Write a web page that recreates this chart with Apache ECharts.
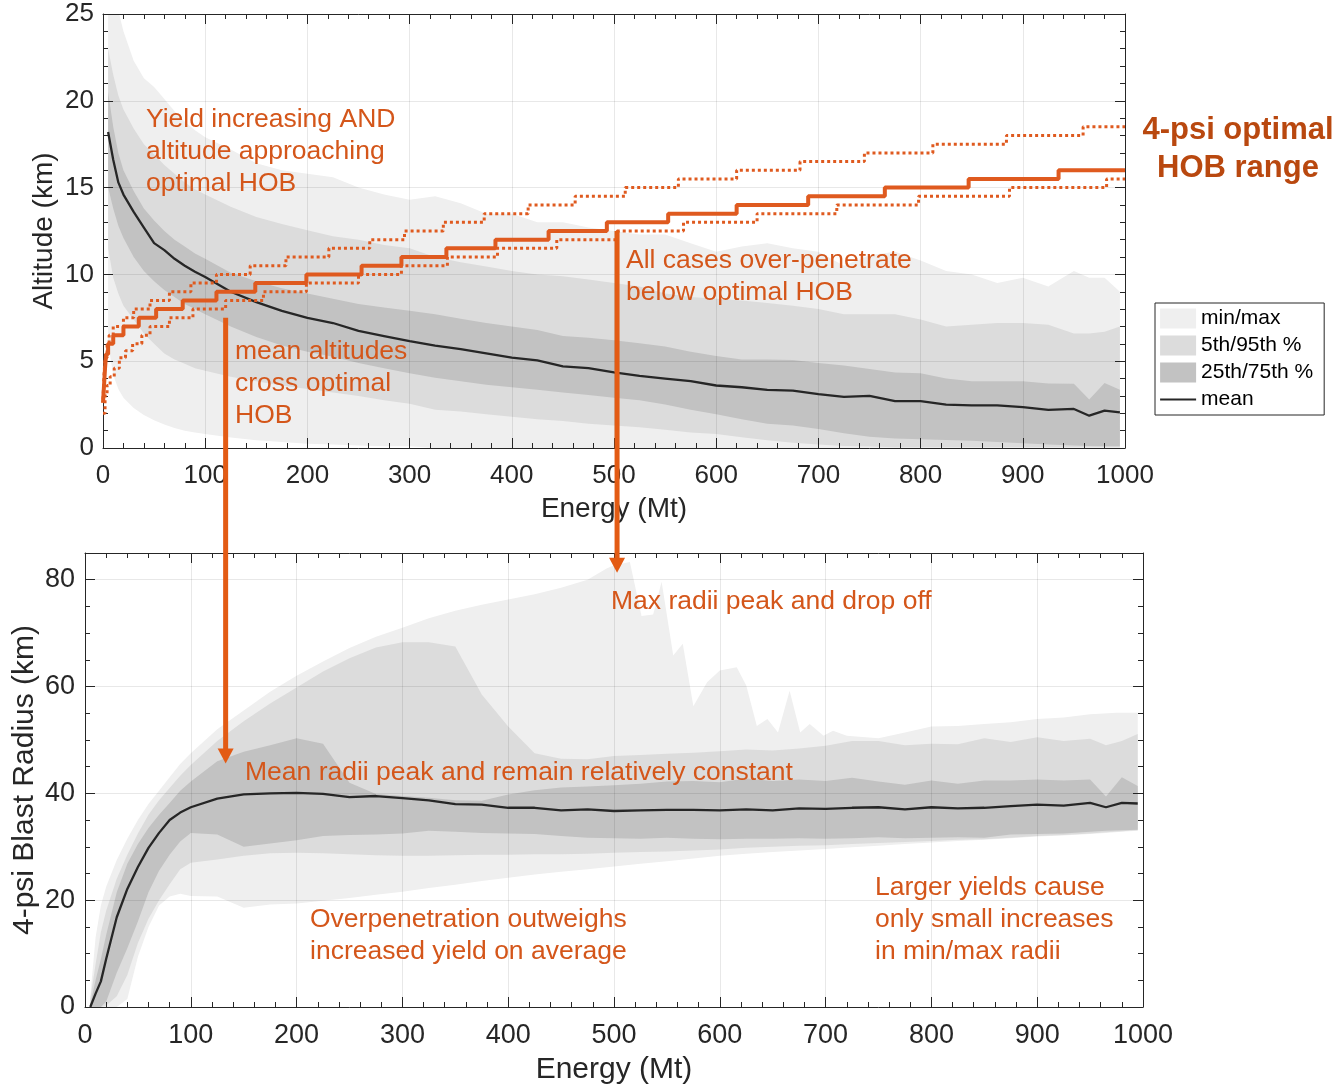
<!DOCTYPE html>
<html>
<head>
<meta charset="utf-8">
<script src="https://cdn.jsdelivr.net/npm/echarts@6/dist/echarts.min.js"></script>
<style>
  html, body { margin: 0; padding: 0; background: #fff; }
  #chart { width: 1340px; height: 1087px; }
</style>
</head>
<body>
<div id="chart"></div>
<script>
// energy grid shared by both panels (Mt)
const energy = [5,10,15,20,30,40,50,60,70,80,90,100,125,150,175,200,225,250,275,300,325,350,375,400,425,450,475,500,525,550,575,600,625,650,675,700,725,750,775,800,825,850,875,900,925,950,965,980,995];

// top panel: burst altitude (km)
const altMax  = [27,26,25.2,24.0,22.3,21.3,20.8,20.1,19.4,18.8,18.3,17.9,17.2,16.4,16.0,15.8,15.6,15.0,14.6,14.3,14.5,14.1,13.5,13.5,13.0,13.0,12.7,12.5,12.3,12.3,11.8,11.3,11.6,11.8,11.5,11.3,10.5,11.1,11.3,10.8,10.2,10.0,9.5,9.8,9.3,10.2,9.8,9.8,9.0];
const altP95  = [23.0,21.5,20.3,19.5,18.4,17.5,16.9,16.3,15.8,15.3,14.9,14.6,13.9,13.3,12.9,12.55,12.2,12.0,11.7,11.5,11.0,10.7,10.45,10.2,10.0,9.9,9.7,9.5,9.3,8.9,8.7,8.6,8.5,8.35,8.2,8.0,7.7,7.7,7.7,7.4,7.0,7.1,7.2,7.2,7.1,6.6,6.6,6.7,7.0];
const altQ75  = [20.5,18.5,17.0,16.0,14.8,13.8,13.1,12.5,12.0,11.6,11.2,10.9,10.1,9.6,9.2,8.9,8.6,8.3,8.1,7.9,7.7,7.45,7.2,7.0,6.8,6.45,6.35,6.2,6.03,5.85,5.55,5.3,5.1,5.1,5.07,4.9,4.75,4.55,4.35,4.3,4.0,3.85,3.85,3.85,3.72,3.7,2.8,3.75,3.35];
const altMean = [18.2,16.6,15.3,14.6,13.6,12.7,11.8,11.4,10.9,10.5,10.15,9.85,9.0,8.4,7.9,7.5,7.2,6.75,6.45,6.15,5.9,5.7,5.45,5.2,5.05,4.7,4.6,4.35,4.15,4.0,3.85,3.6,3.5,3.35,3.3,3.1,2.95,3.0,2.7,2.7,2.5,2.45,2.45,2.35,2.2,2.25,1.86,2.15,2.05];
const altQ25  = [15.0,13.8,12.8,12.1,11.0,10.2,9.6,9.1,8.7,8.3,8.0,7.7,7.0,6.4,5.9,5.55,5.25,4.9,4.6,4.3,4.05,3.85,3.65,3.5,3.35,3.2,3.05,2.9,2.75,2.5,2.2,1.95,1.65,1.4,1.3,1.1,0.85,0.65,0.55,0.5,0.46,0.42,0.35,0.28,0.2,0.15,0.12,0.1,0.1];
const altP05  = [11.5,9.8,8.9,8.2,7.4,6.6,6.0,5.45,5.1,4.85,4.6,4.45,4.1,3.85,3.6,3.4,3.2,3.0,2.75,2.55,2.2,2.1,1.95,1.8,1.65,1.55,1.4,1.3,1.2,1.05,0.9,0.8,0.62,0.45,0.3,0.2,0.12,0.08,0.05,0.05,0.05,0.05,0.05,0.05,0.05,0.05,0.05,0.05,0.05];
const altMin  = [6.0,4.2,3.4,2.9,2.3,1.9,1.6,1.35,1.15,1.0,0.9,0.8,0.6,0.45,0.35,0.25,0.2,0.15,0.1,0.1,0,0,0,0,0,0,0,0,0,0,0,0,0,0,0,0,0,0,0,0,0,0,0,0,0,0,0,0,0];

// 4-psi optimal height of burst, step lines (energy where each level starts)
const hobEnergy      = [0,1,2,3,5,10,20,35,52,78,111,149,199,253,292,336,384,436,493,553,620,690,765,847,935,1000];
const hobOptimal     = [2.6,3.6,4.6,5.4,6.0,6.5,7.0,7.5,8.0,8.5,9.0,9.5,10.0,10.5,11.0,11.5,12.0,12.5,13.0,13.5,14.0,14.5,15.0,15.5,16.0,16.0];
const hobUpperEnergy = [0,1,2,4,6,10,20,30,46,65,86,111,144,179,221,261,295,333,373,416,462,511,563,620,682,745,812,884,959,1000];
const hobUpper       = [2.8,4.2,5.2,6.0,6.5,7.0,7.5,8.0,8.5,9.0,9.5,10.0,10.5,11.0,11.5,12.0,12.5,13.0,13.5,14.0,14.5,15.0,15.5,16.0,16.5,17.0,17.5,18.0,18.5,18.5];
const hobLowerEnergy = [0,2,4,7,11,16,22,29,38,46,65,88,120,157,199,250,292,337,386,444,503,568,640,718,798,887,982,1000];
const hobLower       = [2.0,3.0,3.6,4.1,4.6,5.2,5.6,6.0,6.5,7.0,7.5,8.0,8.5,9.0,9.5,10.0,10.5,11.0,11.5,12.0,12.5,13.0,13.5,14.0,14.5,15.0,15.5,15.5];

// bottom panel: 4-psi blast radius (km)
const radP95  = [1.5,8,14,18,24,28.5,32.5,36.0,38.7,41.0,43.3,45.3,49.8,53.5,56.8,59.8,62.8,65.3,67.3,68.3,68.3,67.5,58.5,52.5,47.5,46.5,46.4,47.0,47.2,47.4,47.6,47.9,48.2,48.0,48.4,48.9,49.8,49.8,49.0,49.3,49.2,50.3,49.6,50.5,49.8,50.2,49.0,49.8,51.1];
const radQ75  = [0.5,5.0,9.0,13.5,21.5,26.8,30.5,33.5,36.0,38.2,40.5,42.2,46.0,47.8,49.0,50.3,49.3,42.0,39.9,39.5,39.2,38.7,38.6,39.8,40.6,41.1,41.3,41.5,41.8,42.2,42.3,42.1,42.8,42.3,42.6,42.3,42.9,42.2,41.6,42.4,41.8,42.4,42.4,42.6,42.4,42.6,39.4,43.0,41.4];
const radMean = [0.0,2.5,4.8,9.0,16.8,22.1,26.2,29.8,32.6,35.0,36.4,37.4,39.0,39.8,40.0,40.1,39.9,39.3,39.5,39.1,38.7,38.0,37.9,37.3,37.3,36.8,37.0,36.7,36.8,36.9,36.9,36.8,37.0,36.8,37.2,37.1,37.3,37.4,37.0,37.4,37.2,37.3,37.6,37.9,37.7,38.2,37.4,38.2,38.1];
const radQ25  = [0,0,0,1.0,6.4,11.0,16.0,21.5,25.5,28.5,31.0,32.6,32.3,30.0,30.6,31.2,32.0,32.2,32.3,32.5,33.0,32.8,32.6,32.5,32.4,32.0,31.7,31.6,31.5,31.7,31.5,31.4,31.5,31.5,31.6,31.5,31.6,31.8,31.6,31.7,31.8,31.7,32.3,32.4,32.5,32.8,33.0,33.1,33.2];
const radP05  = [0,0,0,0.3,2.0,6.0,12.0,16.5,20.0,23.0,25.8,27.0,27.6,28.3,28.8,28.9,28.8,28.6,28.4,28.3,28.3,28.4,28.5,28.5,28.6,28.6,28.7,28.9,29.0,29.1,29.3,29.5,29.8,30.0,30.2,30.3,30.5,30.7,30.9,31.1,31.3,31.4,31.7,32.0,32.2,32.5,32.7,32.9,33.1];
const radMin  = [0,0,0,0,0,1.5,9.4,15.0,19.0,20.7,21.2,20.8,20.7,18.6,19.2,19.4,19.9,20.4,21.0,21.6,22.3,22.9,23.6,24.2,24.8,25.3,25.8,26.3,26.8,27.3,27.8,28.3,28.7,29.0,29.3,29.6,29.9,30.2,30.5,30.8,31.1,31.3,31.6,31.9,32.1,32.4,32.6,32.8,33.0];
// max radius is jagged past 500 Mt, so it has its own finer grid
const maxEnergy = [5,10,15,20,30,40,50,60,70,80,90,100,125,150,175,200,225,250,275,300,325,350,375,400,425,450,475,493,500,515,526,537,545,556,565,575,588,600,616,625,635,645,655,666,676,685,698,707,720,750,775,800,825,850,875,900,925,950,975,995];
const radMax    = [2,13,19,22.5,27.5,31.5,35,38,40.5,43,45.5,47.5,52,55.5,59,62,64.7,67.2,69.3,71,72.8,74.2,75.3,76.3,77.3,78.5,80,82.1,82.7,83.3,73.2,73.5,79.6,65.8,68.0,56.3,60.8,63.0,63.6,60.2,52.6,53.9,51.4,59.2,51.4,53.0,50.8,51.7,50.8,50.3,51.4,52.5,52.6,53.0,53.3,53.9,54.2,54.8,55.1,55.1];

const FONT = '"Liberation Sans", Arial, Helvetica, sans-serif';
const INK = '#262626';
const TEXT_ORANGE = '#d4561a';
const LINE_ORANGE = '#df5a1f';
const ARROW_ORANGE = '#e35b14';
const C_MINMAX = '#efefef', C_P595 = '#dcdcdc', C_Q2575 = '#c2c2c2';

const chart = echarts.init(document.getElementById('chart'));

// filled band between two curves, drawn through the axis scales
function band(name, xi, yi, xsHi, hi, xsLo, lo, color) {
  return {
    name: name, type: 'custom', xAxisIndex: xi, yAxisIndex: yi,
    z: 1, silent: true, clip: true,
    itemStyle: { color: color },
    data: [[xsHi[0], hi[0]]],
    renderItem: function (params, api) {
      const pts = [];
      for (let i = 0; i < xsHi.length; i++) pts.push(api.coord([xsHi[i], hi[i]]));
      for (let i = xsLo.length - 1; i >= 0; i--) pts.push(api.coord([xsLo[i], lo[i]]));
      return { type: 'polygon', shape: { points: pts }, style: { fill: color } };
    }
  };
}

function meanLine(xi, yi, ys) {
  return {
    name: 'mean', type: 'line', xAxisIndex: xi, yAxisIndex: yi, z: 5,
    symbol: 'none', silent: true,
    lineStyle: { color: INK, width: 2.3 }, itemStyle: { color: INK },
    data: energy.map((e, i) => [e, ys[i]])
  };
}

function hobLine(xs, ys, dotted) {
  return {
    type: 'line', step: 'end', xAxisIndex: 0, yAxisIndex: 0, z: 6,
    symbol: 'none', silent: true,
    lineStyle: { color: LINE_ORANGE, width: dotted ? 3 : 4, type: dotted ? [3, 3] : 'solid' },
    data: xs.map((x, i) => [x, ys[i]])
  };
}

function axis(o) {
  return {
    type: 'value', gridIndex: o.grid, position: o.pos,
    min: o.min, max: o.max, interval: o.interval, z: 3,
    name: o.name || '', nameLocation: 'middle', nameGap: o.nameGap || 0,
    nameMoveOverlap: false,
    nameTextStyle: { fontSize: o.nameSize || 28, color: INK, fontFamily: FONT },
    axisLine: { show: o.line !== false, onZero: false, lineStyle: { color: INK, width: 1 } },
    axisTick: { show: true, inside: true, length: o.tickLen || 10, lineStyle: { color: INK, width: 1 } },
    minorTick: { show: !!o.minor, splitNumber: o.minor || 5, length: 5, lineStyle: { color: INK, width: 1 } },
    axisLabel: {
      show: !!o.labels, color: INK, fontSize: o.labelSize || 26, fontFamily: FONT,
      margin: o.margin || 10, showMaxLabel: o.showMax === false ? false : null,
      formatter: function (v) { return String(v); }
    },
    splitLine: { show: !!o.split, lineStyle: { color: 'rgba(0,0,0,0.09)', width: 1 } }
  };
}

const option = {
  animation: false,
  backgroundColor: '#fff',
  textStyle: { fontFamily: FONT },
  grid: [
    { left: 103, top: 14, width: 1022, height: 434, outerBoundsMode: 'none' },
    { left: 85, top: 553, width: 1058, height: 454, outerBoundsMode: 'none' }
  ],
  xAxis: [
    axis({ grid: 0, pos: 'bottom', min: 0, max: 1000, interval: 100, minor: 5, labels: true, split: true,
           name: 'Energy (Mt)', nameGap: 47, labelSize: 26, margin: 15 }),
    axis({ grid: 0, pos: 'top', min: 0, max: 1000, interval: 100, minor: 5 }),
    axis({ grid: 1, pos: 'bottom', min: 0, max: 1000, interval: 100, minor: 5, labels: true, split: true,
           name: 'Energy (Mt)', nameGap: 48, nameSize: 30, labelSize: 27, margin: 15 }),
    axis({ grid: 1, pos: 'top', min: 0, max: 1000, interval: 100, minor: 5 })
  ],
  yAxis: [
    axis({ grid: 0, pos: 'left', min: 0, max: 25, interval: 5, minor: 5, labels: true, split: true,
           name: 'Altitude (km)', nameGap: 45, labelSize: 26, margin: 9 }),
    axis({ grid: 0, pos: 'right', min: 0, max: 25, interval: 5, minor: 5 }),
    axis({ grid: 1, pos: 'left', min: 0, max: 85, interval: 20, labels: true, split: true, showMax: false,
           name: '4-psi Blast Radius (km)', nameGap: 45, nameSize: 30, labelSize: 27, margin: 10 }),
    axis({ grid: 1, pos: 'left', min: 0, max: 85, interval: 5, tickLen: 5, line: false }),
    axis({ grid: 1, pos: 'right', min: 0, max: 85, interval: 20 }),
    axis({ grid: 1, pos: 'right', min: 0, max: 85, interval: 5, tickLen: 5, line: false })
  ],
  legend: {
    orient: 'vertical', left: 1155, top: 303,
    data: [
      { name: 'min/max', icon: 'rect' },
      { name: '5th/95th %', icon: 'rect' },
      { name: '25th/75th %', icon: 'rect' },
      { name: 'mean',
        itemStyle: { color: 'rgba(0,0,0,0)', borderColor: 'rgba(0,0,0,0)', borderWidth: 0 },
        lineStyle: { color: INK, width: 2.2 } }
    ],
    itemWidth: 36, itemHeight: 20, itemGap: 6,
    padding: [5, 11, 5, 4],
    borderColor: INK, borderWidth: 1, backgroundColor: '#fff',
    selectedMode: false,
    textStyle: { fontSize: 21, color: '#000', fontFamily: FONT }
  },
  series: [
    band('min/max', 0, 0, energy, altMax, energy, altMin, C_MINMAX),
    band('5th/95th %', 0, 0, energy, altP95, energy, altP05, C_P595),
    band('25th/75th %', 0, 0, energy, altQ75, energy, altQ25, C_Q2575),
    meanLine(0, 0, altMean),
    hobLine(hobEnergy, hobOptimal, false),
    hobLine(hobUpperEnergy, hobUpper, true),
    hobLine(hobLowerEnergy, hobLower, true),
    band('min/max', 2, 2, maxEnergy, radMax, energy, radMin, C_MINMAX),
    band('5th/95th %', 2, 2, energy, radP95, energy, radP05, C_P595),
    band('25th/75th %', 2, 2, energy, radQ75, energy, radQ25, C_Q2575),
    meanLine(2, 2, radMean)
  ]
};

chart.setOption(option);

// annotations
function note(x, yFirst, text, lh) {
  lh = lh || 32;
  return {
    type: 'text', z: 100, silent: true,
    style: { text: text, x: x, y: yFirst - lh / 2, fill: TEXT_ORANGE,
             font: '26.5px ' + FONT, lineHeight: lh, verticalAlign: 'top' }
  };
}

// vertical arrows from the top panel down into the bottom panel
function arrow(topPt, tipY) {
  const x = topPt[0];
  return [
    { type: 'line', z: 110, silent: true,
      shape: { x1: x, y1: topPt[1], x2: x, y2: tipY - 12 },
      style: { stroke: ARROW_ORANGE, lineWidth: 5 } },
    { type: 'polygon', z: 110, silent: true,
      shape: { points: [[x - 8, tipY - 15], [x + 8, tipY - 15], [x, tipY]] },
      style: { fill: ARROW_ORANGE } }
  ];
}

const a1Top = chart.convertToPixel({ seriesIndex: 0 }, [120, 7.5]);
const a1Tip = chart.convertToPixel({ seriesIndex: 7 }, [0, 45.6])[1];
const a2Top = chart.convertToPixel({ seriesIndex: 0 }, [503, 12.5]);
const a2Tip = chart.convertToPixel({ seriesIndex: 7 }, [0, 81.3])[1];

chart.setOption({
  graphic: [
    note(146, 120, 'Yield increasing AND\naltitude approaching\noptimal HOB'),
    note(626, 261, 'All cases over-penetrate\nbelow optimal HOB'),
    note(235, 352, 'mean altitudes\ncross optimal\nHOB'),
    note(611, 602, 'Max radii peak and drop off'),
    note(245, 773, 'Mean radii peak and remain relatively constant'),
    note(310, 920, 'Overpenetration outweighs\nincreased yield on average'),
    note(875, 888, 'Larger yields cause\nonly small increases\nin min/max radii'),
    { type: 'text', z: 100, silent: true,
      style: { text: '4-psi optimal\nHOB range', x: 1238, y: 111, fill: '#b9480f',
               font: 'bold 31px ' + FONT, lineHeight: 38, align: 'center', verticalAlign: 'top' } }
  ].concat(arrow(a1Top, a1Tip), arrow(a2Top, a2Tip))
});
</script>
</body>
</html>
